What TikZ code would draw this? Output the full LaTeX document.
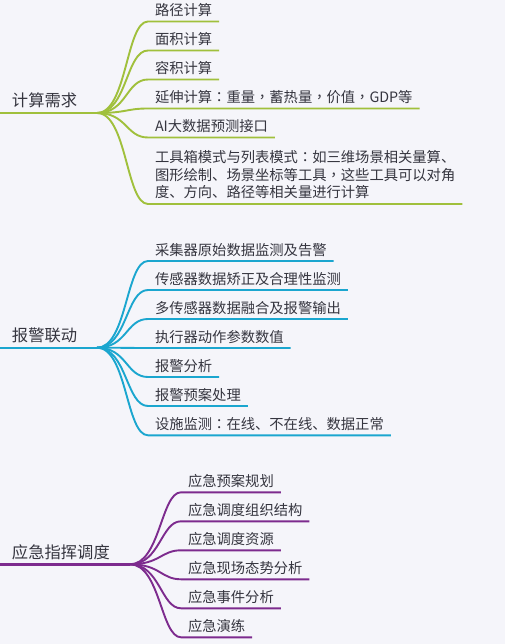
\documentclass[tikz,border=0pt]{standalone}
\usepackage{fontspec}
\setmainfont{Noto Sans CJK SC}
\newfontfamily\tcfont{Noto Sans CJK TC}
\newcommand\fwp[1]{{\tcfont #1}}
\definecolor{bg}{HTML}{F5F5FA}
\definecolor{cgreen}{HTML}{A0C03C}
\definecolor{ccyan}{HTML}{1BA6CF}
\definecolor{cpurple}{HTML}{7D2B8E}
\definecolor{ctext}{HTML}{35353F}
\begin{document}
\begin{tikzpicture}[x=1pt,y=-1pt,
  every node/.style={inner sep=0pt, outer sep=0pt, text=ctext},
  rootlabel/.style={anchor=south west, inner xsep=12pt, inner ysep=6pt, text depth=0pt, font=\fontsize{16.3pt}{20pt}\selectfont},
  leaf/.style={anchor=south west, inner xsep=7pt, inner ysep=6pt, text depth=0pt, font=\fontsize{14.3pt}{17.5pt}\selectfont},
  leafml/.style={anchor=south west, inner xsep=7pt, inner ysep=5pt, align=left, font=\fontsize{14.3pt}{17.5pt}\selectfont},
  trunk/.style={line width=2.4pt},
  twig/.style={line width=1.9pt},
]
\fill[bg] (0,0) rectangle (505,644);
\useasboundingbox (0,0) rectangle (505,644);

% ---------- green: 计算需求
\node[rootlabel] (g) at (0,113) {计算需求};
\coordinate (gF) at (97,113);
\draw[trunk,cgreen] (g.south west) -- (gF);
\node[leaf] (g1) at (148,21.5) {路径计算};
\node[leaf] (g2) at (148,50.5) {面积计算};
\node[leaf] (g3) at (148,79.5) {容积计算};
\node[leaf] (g4) at (148,108.5) {延伸计算\fwp{：}重量\fwp{，}蓄热量\fwp{，}价值\fwp{，}GDP等};
\node[leaf] (g5) at (148,137.5) {AI大数据预测接口};
\node[leafml] (g6) at (148,204) {工具箱模式与列表模式\fwp{：}如三维场景相关量算、\\图形绘制、场景坐标等工具\fwp{，}这些工具可以对角\\度、方向、路径等相关量进行计算};
\foreach \n in {g1,g2,g3,g4,g5,g6}
  \draw[twig,cgreen] (gF) .. controls +(30,0) and +(-22,0) .. (\n.south west) -- (\n.south east);

% ---------- cyan: 报警联动
\node[rootlabel] (c) at (0,347.7) {报警联动};
\coordinate (cF) at (97,347.7);
\draw[trunk,ccyan] (c.south west) -- (cF);
\node[leaf] (c1) at (148,261) {采集器原始数据监测及告警};
\node[leaf] (c2) at (148,290) {传感器数据矫正及合理性监测};
\node[leaf] (c3) at (148,319) {多传感器数据融合及报警输出};
\node[leaf] (c4) at (148,348) {执行器动作参数数值};
\node[leaf] (c5) at (148,377) {报警分析};
\node[leaf] (c6) at (148,406) {报警预案处理};
\node[leaf] (c7) at (148,435.3) {设施监测\fwp{：}在线、不在线、数据正常};
\foreach \n in {c1,c2,c3,c4,c5,c6,c7}
  \draw[twig,ccyan] (cF) .. controls +(30,0) and +(-22,0) .. (\n.south west) -- (\n.south east);

% ---------- purple: 应急指挥调度
\node[rootlabel] (p) at (0,564.3) {应急指挥调度};
\coordinate (pF) at (130,564.3);
\draw[trunk,cpurple] (p.south west) -- (pF);
\node[leaf] (p1) at (181,492.3) {应急预案规划};
\node[leaf] (p2) at (181,521.3) {应急调度组织结构};
\node[leaf] (p3) at (181,550.3) {应急调度资源};
\node[leaf] (p4) at (181,579.3) {应急现场态势分析};
\node[leaf] (p5) at (181,608.3) {应急事件分析};
\node[leaf] (p6) at (181,637.3) {应急演练};
\foreach \n in {p1,p2,p3,p4,p5,p6}
  \draw[twig,cpurple] (pF) .. controls +(30,0) and +(-20,0) .. (\n.south west) -- (\n.south east);
\end{tikzpicture}
\end{document}
